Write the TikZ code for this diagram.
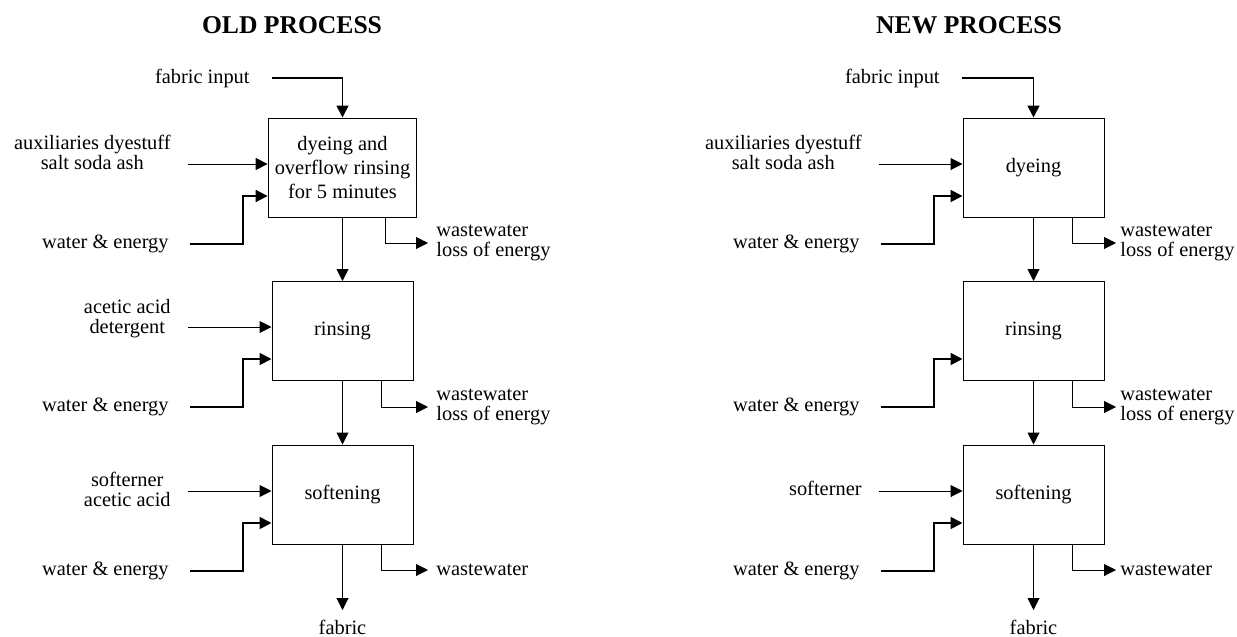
\documentclass[tikz,border=0pt]{standalone}
\usepackage{fontspec}
\setmainfont{Liberation Serif}
\usetikzlibrary{arrows.meta,calc}
\usetikzlibrary{positioning}
\tikzstyle{process} = [rectangle, draw=black, line width=0.5pt, minimum width=70.5pt, minimum height=49.5pt, align=center, font=\fontsize{10.2}{12}\selectfont]
\tikzstyle{inlbl} = [anchor=east, inner sep=0pt, align=center, font=\fontsize{10.2}{10}\selectfont]
\tikzstyle{outlbl} = [anchor=west, inner sep=4pt, align=left, font=\fontsize{10.2}{10}\selectfont]
\tikzstyle{feed} = [-{Triangle[length=6pt,width=6pt]}, line width=0.5pt]
\tikzstyle{water} = [feed, line width=0.9pt]
\tikzstyle{heading} = [font=\bfseries\fontsize{12.8}{15}\selectfont]

\begin{document}
\begin{tikzpicture}[x=0.5pt, y=-0.5pt]
\useasboundingbox (0,0) rectangle (1237,637);

% old process
\node (t1) [heading] at (292,25) {OLD PROCESS};

\node (d1) [process] at (342.5,167.5) {dyeing and\\overflow rinsing\\for 5 minutes};
\node (d2) [process] at (342.5,331) {rinsing};
\node (d3) [process] at (342.5,494.5) {softening};

\node (fi1) [inlbl] at (250,78) {fabric input};
\node (aux1) [inlbl] at (171,152) {auxiliaries dyestuff\\salt soda ash};
\node (we1) [inlbl] at (169,244) {water \& energy};
\node (ac1) [inlbl] at (171,319) {acetic acid\\detergent};
\node (we2) [inlbl] at (169,407) {water \& energy};
\node (so1) [inlbl] at (171,489) {softerner\\acetic acid};
\node (we3) [inlbl] at (169,571) {water \& energy};

\node (ww1) [outlbl] at (428,243) {wastewater\\loss of energy};
\node (ww2) [outlbl] at (428,407) {wastewater\\loss of energy};
\node (ww3) [outlbl] at (428,570) {wastewater};
\node (fo1) [inner sep=5pt, anchor=north, font=\fontsize{10.2}{10}\selectfont] at (342.5,610) {fabric};

\coordinate (a1) at (188,164);
\coordinate (a2) at (188,327);
\coordinate (a3) at (188,491);

\draw[water] ([xshift=11pt]fi1.east) -| (d1.north);
\draw[feed] (a1) -- (a1 -| d1.west);
\draw[water] ([xshift=10.5pt]we1.east) -- ++(53,0) |- ($(d1.west)+(0,28.5)$);
\draw[feed] ($(d1.south east)+(-32,0)$) |- (ww1.west);
\draw[feed] (d1) -- (d2);
\draw[feed] (a2) -- (a2 -| d2.west);
\draw[water] ([xshift=10.5pt]we2.east) -- ++(53,0) |- ($(d2.west)+(0,28)$);
\draw[feed] ($(d2.south east)+(-32,0)$) |- (ww2.west);
\draw[feed] (d2) -- (d3);
\draw[feed] (a3) -- (a3 -| d3.west);
\draw[water] ([xshift=10.5pt]we3.east) -- ++(53,0) |- ($(d3.west)+(0,28.5)$);
\draw[feed] ($(d3.south east)+(-32,0)$) |- (ww3.west);
\draw[feed] (d3) -- (fo1);

% new process
\node (t2) [heading] at (969,25) {NEW PROCESS};

\node (n1) [process] at (1033.5,167.5) {dyeing};
\node (n2) [process] at (1033.5,331) {rinsing};
\node (n3) [process] at (1033.5,494.5) {softening};

\node (fi2) [inlbl] at (940,78) {fabric input};
\node (aux2) [inlbl] at (862,152) {auxiliaries dyestuff\\salt soda ash};
\node (we4) [inlbl] at (860,244) {water \& energy};
\node (we5) [inlbl] at (860,407) {water \& energy};
\node (sf2) [inlbl] at (862,488) {softerner};
\node (we6) [inlbl] at (860,571) {water \& energy};

% kept a little to the left so the text stays on the page
\node (ww4) [outlbl, inner sep=2pt] at (1116,243) {wastewater\\loss of energy};
\node (ww5) [outlbl, inner sep=2pt] at (1116,407) {wastewater\\loss of energy};
\node (ww6) [outlbl, inner sep=2pt] at (1116,570) {wastewater};
\node (fo2) [inner sep=5pt, anchor=north, font=\fontsize{10.2}{10}\selectfont] at (1033.5,610) {fabric};

\coordinate (a4) at (879,164);
\coordinate (a6) at (879,491);

\draw[water] ([xshift=11pt]fi2.east) -| (n1.north);
\draw[feed] (a4) -- (a4 -| n1.west);
\draw[water] ([xshift=10.5pt]we4.east) -- ++(53,0) |- ($(n1.west)+(0,28.5)$);
\draw[feed] ($(n1.south east)+(-32,0)$) |- (ww4.west);
\draw[feed] (n1) -- (n2);
\draw[water] ([xshift=10.5pt]we5.east) -- ++(53,0) |- ($(n2.west)+(0,28)$);
\draw[feed] ($(n2.south east)+(-32,0)$) |- (ww5.west);
\draw[feed] (n2) -- (n3);
\draw[feed] (a6) -- (a6 -| n3.west);
\draw[water] ([xshift=10.5pt]we6.east) -- ++(53,0) |- ($(n3.west)+(0,28.5)$);
\draw[feed] ($(n3.south east)+(-32,0)$) |- (ww6.west);
\draw[feed] (n3) -- (fo2);
\end{tikzpicture}
\end{document}
